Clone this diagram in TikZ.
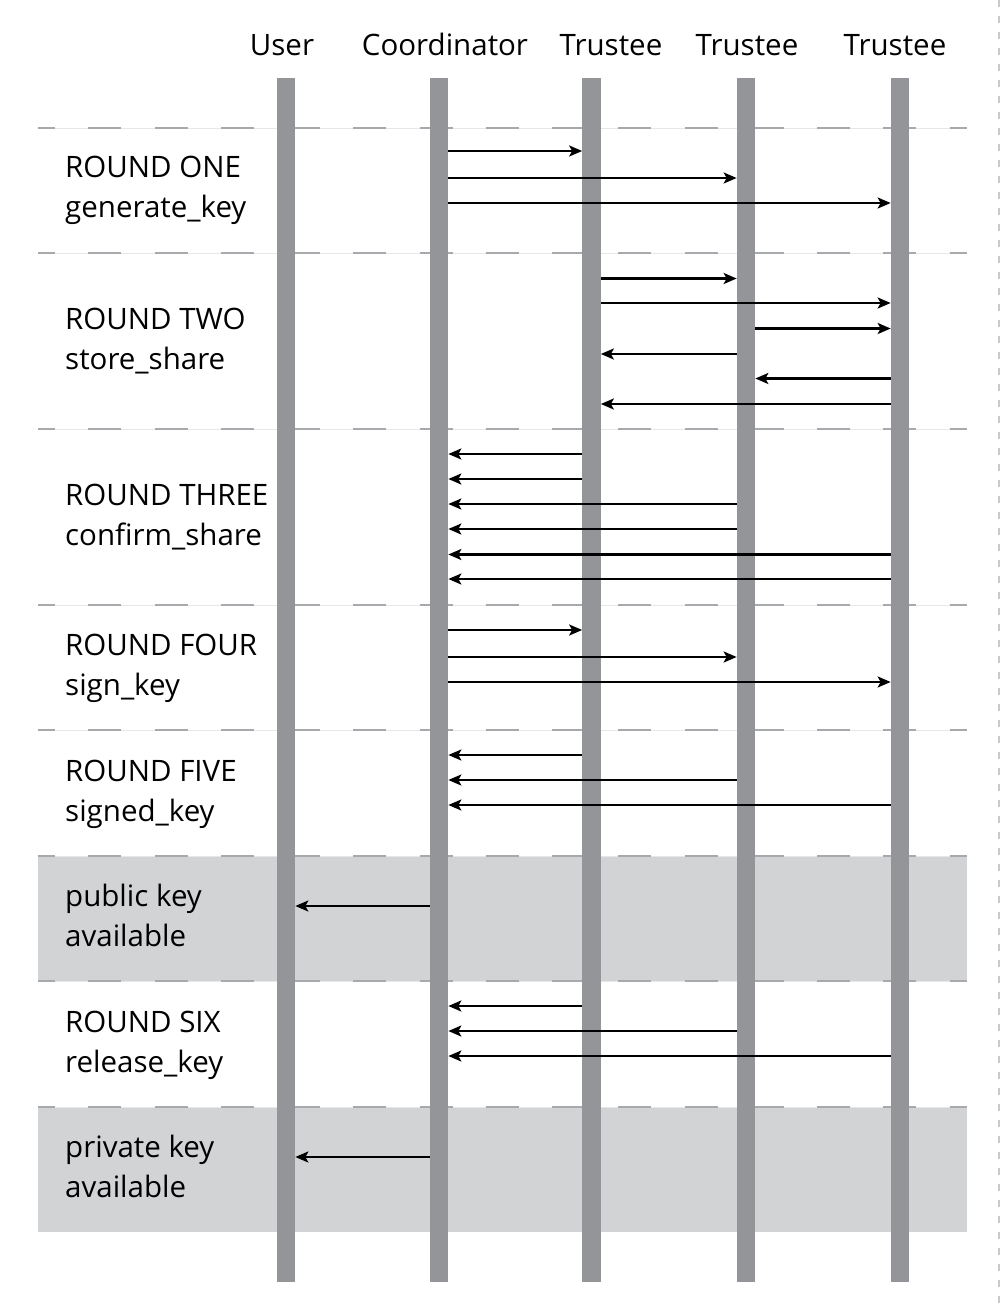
\documentclass[tikz,border=0pt]{standalone}
\usepackage{fontspec}
\setmainfont{Open Sans}
\usetikzlibrary{arrows.meta}
\definecolor{life}{HTML}{939598}
\definecolor{dashc}{HTML}{A7A9AC}
\definecolor{thinc}{HTML}{E6E7E8}
\definecolor{boxc}{HTML}{D1D3D4}
\definecolor{edgec}{HTML}{C9CACC}
\newcommand\msgR[3]{\draw[msg] ([yshift={78pt-#3pt}]#1.north east) -- ([yshift={78pt-#3pt}]#2.north west);}
\newcommand\msgL[3]{\draw[msg] ([yshift={78pt-#3pt}]#1.north west) -- ([yshift={78pt-#3pt}]#2.north east);}
\newcommand\sepline[1]{\draw[thinsep] (38,#1) -- (967,#1); \draw[dashsep] (38,#1) -- (967,#1);}
\begin{document}
\begin{tikzpicture}[x=1pt,y=-1pt,
  lifeline/.style={fill=life, draw=none, minimum width=18.3pt, minimum height=1204pt, inner sep=0pt, anchor=north},
  msg/.style={line width=2.3pt, -{Stealth[length=13pt,width=11pt,inset=3pt]}},
  thinsep/.style={thinc, line width=1pt},
  dashsep/.style={dashc, line width=2.7pt, dash pattern=on 33pt off 33.25pt, dash phase=16pt},
  boxfill/.style={fill=boxc, draw=none},
  lbl/.style={anchor=base west, font=\fontsize{29.5}{36}\selectfont, inner sep=0pt},
  hdr/.style={anchor=base, font=\fontsize{29.5}{36}\selectfont, inner sep=0pt}]
\useasboundingbox (0,0) rectangle (1000,1312);
\fill[white] (0,0) rectangle (1000,1312);
% right border
\draw[edgec, line width=1.5pt, dash pattern=on 7pt off 9pt] (999,0) -- (999,1312);
% shaded boxes
\fill[boxfill] (38,856) rectangle (967,981);
\fill[boxfill] (38,1107) rectangle (967,1232);
% separators
\foreach \yy in {128,253,429,605,730,856,981,1107} {\sepline{\yy}}
% headers
\node[hdr] (hU) at (282,55) {User};
\node[hdr] (hC) at (445,55) {Coordinator};
\node[hdr] (hT1) at (611,55) {Trustee};
\node[hdr] (hT2) at (747,55) {Trustee};
\node[hdr] (hT3) at (895,55) {Trustee};
% lifelines
\node[lifeline] (U) at (286,78) {};
\node[lifeline] (C) at (439,78) {};
\node[lifeline] (T1) at (591.5,78) {};
\node[lifeline] (T2) at (746,78) {};
\node[lifeline] (T3) at (900,78) {};
% labels
\node[lbl] (l1a) at (65,177) {ROUND ONE};
\node[lbl] (l1b) at (65,217) {generate\_key};
\node[lbl] (l2a) at (65,329) {ROUND TWO};
\node[lbl] (l2b) at (65,369) {store\_share};
\node[lbl] (l3a) at (65,505) {ROUND THREE};
\node[lbl] (l3b) at (65,545) {confirm\_share};
\node[lbl] (l4a) at (65,655) {ROUND FOUR};
\node[lbl] (l4b) at (65,695) {sign\_key};
\node[lbl] (l5a) at (65,781) {ROUND FIVE};
\node[lbl] (l5b) at (65,821) {signed\_key};
\node[lbl] (l6a) at (65,906) {public key};
\node[lbl] (l6b) at (65,946) {available};
\node[lbl] (l7a) at (65,1032) {ROUND SIX};
\node[lbl] (l7b) at (65,1072) {release\_key};
\node[lbl] (l8a) at (65,1157) {private key};
\node[lbl] (l8b) at (65,1197) {available};
% round one
\msgR{C}{T1}{151}
\msgR{C}{T2}{178}
\msgR{C}{T3}{203}
% round two
\msgR{T1}{T2}{278.5}
\msgR{T1}{T3}{303}
\msgR{T2}{T3}{328.5}
\msgL{T2}{T1}{354}
\msgL{T3}{T2}{378.5}
\msgL{T3}{T1}{404}
% round three
\msgL{T1}{C}{454}
\msgL{T1}{C}{479}
\msgL{T2}{C}{504}
\msgL{T2}{C}{529}
\msgL{T3}{C}{554.5}
\msgL{T3}{C}{579}
% round four
\msgR{C}{T1}{630}
\msgR{C}{T2}{657}
\msgR{C}{T3}{682}
% round five
\msgL{T1}{C}{755}
\msgL{T2}{C}{780}
\msgL{T3}{C}{805}
% public key
\msgL{C}{U}{906}
% round six
\msgL{T1}{C}{1006}
\msgL{T2}{C}{1031}
\msgL{T3}{C}{1056}
% private key
\msgL{C}{U}{1157}
\end{tikzpicture}
\end{document}
